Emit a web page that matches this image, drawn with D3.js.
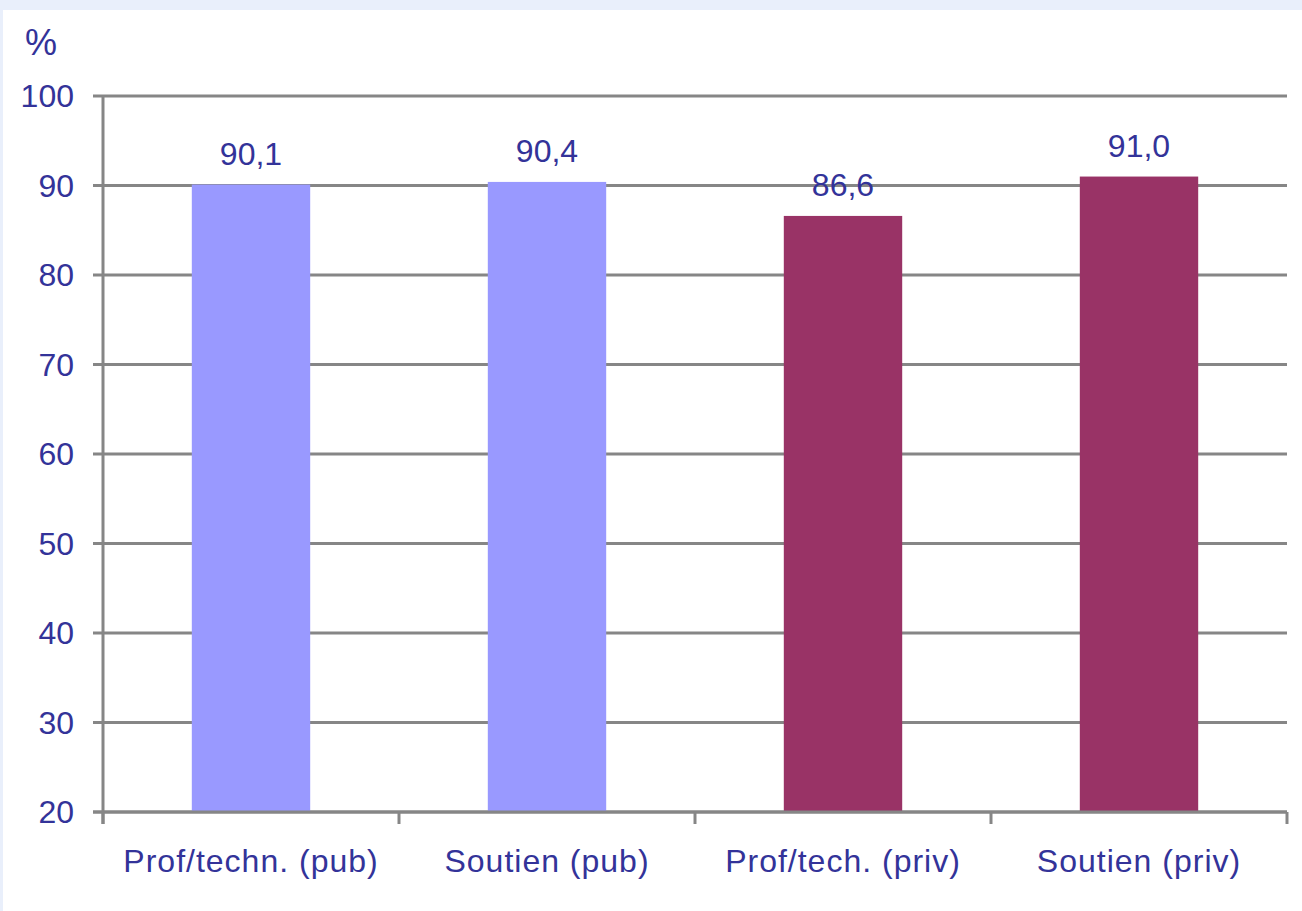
<!DOCTYPE html>
<html>
<head>
<meta charset="utf-8">
<script src="https://cdn.jsdelivr.net/npm/d3@7"></script>
<style>
  body { margin: 0; background: #e9effb; }
  svg { display: block; }
</style>
</head>
<body>
<div id="chart"></div>
<script>
const categories = ['Prof/techn. (pub)', 'Soutien (pub)', 'Prof/tech. (priv)', 'Soutien (priv)'];
const values = [90.1, 90.4, 86.6, 91.0];
const valueLabels = ['90,1', '90,4', '86,6', '91,0'];
const barColors = ['#9999ff', '#9999ff', '#993366', '#993366'];
const yTicks = [20, 30, 40, 50, 60, 70, 80, 90, 100];

const width = 1302;
const height = 911;
const margin = { top: 96, right: 15, bottom: 99, left: 103 };
const textColor = '#333399';
const gridColor = '#868686';
const font = 'Liberation Sans, Arial, sans-serif';
const fontSize = 32;

const svg = d3.select('#chart')
  .append('svg')
  .attr('width', width)
  .attr('height', height);

// White panel
svg.append('rect')
  .attr('x', 3)
  .attr('y', 10)
  .attr('width', width - 3)
  .attr('height', height - 10)
  .attr('fill', '#ffffff');

const x = d3.scaleBand()
  .domain(categories)
  .range([margin.left, width - margin.right])
  .paddingInner(0.6)
  .paddingOuter(0.3);

const y = d3.scaleLinear()
  .domain([20, 100])
  .range([height - margin.bottom, margin.top]);

// Gridlines
svg.append('g')
  .selectAll('line')
  .data(yTicks)
  .enter()
  .append('line')
  .attr('x1', margin.left - 10)
  .attr('x2', width - margin.right)
  .attr('y1', d => y(d))
  .attr('y2', d => y(d))
  .attr('stroke', gridColor)
  .attr('stroke-width', 3);

// Y labels
svg.append('g')
  .selectAll('text')
  .data(yTicks)
  .enter()
  .append('text')
  .attr('x', 74)
  .attr('y', d => y(d) + 11)
  .attr('text-anchor', 'end')
  .attr('font-family', font)
  .attr('font-size', fontSize)
  .attr('fill', textColor)
  .text(d => d);

// Bars
svg.append('g')
  .selectAll('rect')
  .data(values)
  .enter()
  .append('rect')
  .attr('x', (d, i) => x(categories[i]))
  .attr('y', d => y(d))
  .attr('width', x.bandwidth())
  .attr('height', d => y(20) - y(d))
  .attr('fill', (d, i) => barColors[i]);

// Value labels
svg.append('g')
  .selectAll('text')
  .data(values)
  .enter()
  .append('text')
  .attr('x', (d, i) => x(categories[i]) + x.bandwidth() / 2)
  .attr('y', d => y(d) - 20)
  .attr('text-anchor', 'middle')
  .attr('font-family', font)
  .attr('font-size', fontSize)
  .attr('fill', textColor)
  .text((d, i) => valueLabels[i]);

// Axis lines
const x0 = margin.left;
const x1 = width - margin.right;
const yBase = y(20);
svg.append('line')
  .attr('x1', x0).attr('x2', x0)
  .attr('y1', margin.top).attr('y2', yBase + 12)
  .attr('stroke', gridColor).attr('stroke-width', 3);

svg.append('line')
  .attr('x1', x0 - 10).attr('x2', x1)
  .attr('y1', yBase).attr('y2', yBase)
  .attr('stroke', gridColor).attr('stroke-width', 3);

// X ticks at band boundaries
const step = x.step();
const boundaries = d3.range(categories.length + 1).map(i => x0 + i * step);
svg.append('g')
  .selectAll('line')
  .data(boundaries)
  .enter()
  .append('line')
  .attr('x1', d => d).attr('x2', d => d)
  .attr('y1', yBase).attr('y2', yBase + 12)
  .attr('stroke', gridColor).attr('stroke-width', 3);

// Category labels
svg.append('g')
  .selectAll('text')
  .data(categories)
  .enter()
  .append('text')
  .attr('x', d => x(d) + x.bandwidth() / 2)
  .attr('y', 872)
  .attr('text-anchor', 'middle')
  .attr('font-family', font)
  .attr('font-size', fontSize)
  .attr('letter-spacing', 1)
  .attr('fill', textColor)
  .text(d => d);

// Unit label
svg.append('text')
  .attr('x', 25)
  .attr('y', 55)
  .attr('font-family', font)
  .attr('font-size', 36)
  .attr('fill', textColor)
  .text('%');
</script>
</body>
</html>
